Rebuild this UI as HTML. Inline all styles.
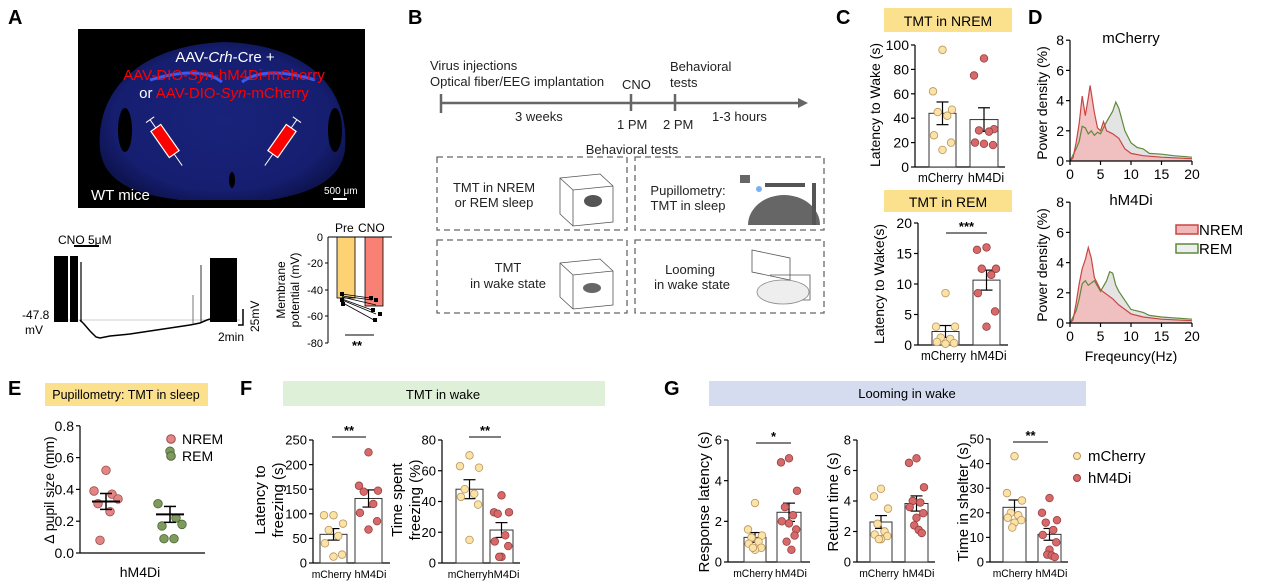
<!DOCTYPE html>
<html><head><meta charset="utf-8"><style>
html,body{margin:0;padding:0;background:#fff}
svg{display:block;font-family:"Liberation Sans",Arial,sans-serif}
</style></head><body>
<svg id="s" width="1269" height="584" viewBox="0 0 1269 584" xmlns="http://www.w3.org/2000/svg">
<defs>
<radialGradient id="bg" cx="50%" cy="50%" r="55%"><stop offset="0" stop-color="#18237a"/><stop offset="0.8" stop-color="#161e70"/><stop offset="1" stop-color="#0e1450"/></radialGradient>
</defs>
<g font-weight="bold" font-size="20" fill="#000">
<text x="8" y="24">A</text><text x="408" y="24">B</text><text x="836" y="24">C</text><text x="1028" y="24">D</text>
<text x="8" y="395">E</text><text x="240" y="395">F</text><text x="664" y="395">G</text>
</g>
<!-- Panel A brain -->
<rect x="78" y="29" width="287" height="179" fill="#000"/>
<path d="M100 150 C95 90 140 45 225 42 C310 45 350 90 345 150 C340 185 300 195 270 200 L180 200 C140 195 105 185 100 150Z" fill="url(#bg)"/>
<path d="M150 80 Q200 65 222 82 M242 82 Q265 65 315 80" stroke="#3a5af0" stroke-width="3" fill="none"/>
<ellipse cx="125" cy="130" rx="7" ry="22" fill="#000"/><ellipse cx="335" cy="130" rx="7" ry="22" fill="#000"/>
<ellipse cx="232" cy="180" rx="3" ry="8" fill="#000"/>
<g font-size="15" text-anchor="middle">
<text x="225" y="62" fill="#fff">AAV-<tspan font-style="italic">Crh</tspan>-Cre +</text>
<text x="224" y="80" fill="#f00">AAV-DIO-<tspan font-style="italic">Syn</tspan>-hM4Di-mCherry</text>
<text x="224" y="98" fill="#fff">or <tspan fill="#f00">AAV-DIO-<tspan font-style="italic">Syn</tspan>-mCherry</tspan></text>
</g>
<g transform="translate(165,141) rotate(-35)"><rect x="-6" y="-16" width="12" height="32" fill="#f00" stroke="#fff" stroke-width="1.2"/><line x1="0" y1="-16" x2="0" y2="-26" stroke="#fff"/><line x1="-5" y1="-26" x2="5" y2="-26" stroke="#fff"/><line x1="0" y1="16" x2="0" y2="30" stroke="#fff"/></g>
<g transform="translate(282,141) rotate(35)"><rect x="-6" y="-16" width="12" height="32" fill="#f00" stroke="#fff" stroke-width="1.2"/><line x1="0" y1="-16" x2="0" y2="-26" stroke="#fff"/><line x1="-5" y1="-26" x2="5" y2="-26" stroke="#fff"/><line x1="0" y1="16" x2="0" y2="30" stroke="#fff"/></g>
<text x="91" y="200" font-size="15" fill="#fff">WT  mice</text>
<text x="324" y="194" font-size="10" fill="#fff">500 μm</text>
<rect x="333" y="198" width="14" height="2" fill="#fff"/>
<!-- trace -->
<text x="58" y="244" font-size="12">CNO 5μM</text>
<rect x="74" y="245" width="25" height="2" fill="#000"/>
<line x1="54" y1="320" x2="240" y2="320" stroke="#bbb" stroke-width="0.8"/>
<g stroke="#000" stroke-width="1.2">
<rect x="54" y="256" width="14" height="66" fill="#000" stroke="none"/><rect x="70" y="256" width="8" height="66" fill="#000" stroke="none"/><line x1="81" y1="262" x2="81" y2="322"/>
<rect x="210" y="258" width="27" height="64" fill="#000" stroke="none"/>
</g>
<polyline points="80,320 84,324 90,331 96,337 100,338 110,336 130,334 150,331 170,328 190,325 200,323 207,320 210,319" fill="none" stroke="#000" stroke-width="1.5"/>
<line x1="193" y1="295" x2="193" y2="324" stroke="#777"/><line x1="201" y1="265" x2="201" y2="322" stroke="#333"/>
<text x="22" y="319" font-size="12">-47.8</text><text x="25" y="334" font-size="12">mV</text>
<polyline points="243,309 243,325 238,325" fill="none" stroke="#000" stroke-width="1.5"/>
<text x="218" y="341" font-size="12">2min</text>
<text transform="translate(259,332) rotate(-90)" font-size="12">25mV</text>
<!-- small bar -->
<g font-size="11">
<text x="335" y="232" font-size="12">Pre</text><text x="358" y="232" font-size="12">CNO</text>
<rect x="337" y="237" width="18" height="61" fill="#fcd274" stroke="#000" stroke-width="0.8"/>
<rect x="365" y="237" width="18" height="69" fill="#f88074" stroke="#000" stroke-width="0.8"/>
<line x1="328" y1="237" x2="328" y2="343" stroke="#000"/><line x1="328" y1="237" x2="392" y2="237" stroke="#000"/>
<g text-anchor="end"><text x="323" y="241">0</text><text x="323" y="267">-20</text><text x="323" y="294">-40</text><text x="323" y="320">-60</text><text x="323" y="347">-80</text></g>
<g stroke="#000"><line x1="325" y1="263" x2="328" y2="263"/><line x1="325" y1="290" x2="328" y2="290"/><line x1="325" y1="316" x2="328" y2="316"/><line x1="325" y1="343" x2="328" y2="343"/></g>
<g stroke="#000" stroke-width="0.8"><line x1="342" y1="294" x2="370" y2="298"/><line x1="342" y1="296" x2="372" y2="300"/><line x1="342" y1="299" x2="372" y2="310"/><line x1="342" y1="300" x2="376" y2="314"/><line x1="343" y1="303" x2="374" y2="320"/><line x1="342" y1="297" x2="376" y2="305"/></g>
<g fill="#000"><rect x="340" y="292" width="4" height="4"/><rect x="340" y="298" width="4" height="4"/><rect x="341" y="302" width="4" height="4"/><rect x="369" y="296" width="4" height="4"/><rect x="374" y="298" width="4" height="4"/><rect x="371" y="308" width="4" height="4"/><rect x="378" y="312" width="4" height="4"/><rect x="373" y="318" width="4" height="4"/></g>
<line x1="345" y1="335" x2="374" y2="335" stroke="#000"/><text x="352" y="350" font-weight="bold" font-size="13">**</text>
<text transform="translate(285,290) rotate(-90)" font-size="12" text-anchor="middle">Membrane</text>
<text transform="translate(299,290) rotate(-90)" font-size="12" text-anchor="middle">potential (mV)</text>
</g>
<!-- Panel B -->
<g font-size="13" fill="#222">
<text x="430" y="70">Virus injections</text><text x="430" y="86">Optical fiber/EEG implantation</text>
<text x="622" y="89">CNO</text><text x="670" y="71">Behavioral</text><text x="670" y="87">tests</text>
<text x="515" y="121">3 weeks</text><text x="617" y="129">1 PM</text><text x="663" y="129">2 PM</text><text x="712" y="121">1-3 hours</text>
<text x="632" y="154" text-anchor="middle">Behavioral tests</text>
</g>
<g stroke="#666" stroke-width="2.5"><line x1="441" y1="103" x2="800" y2="103"/><line x1="441" y1="94" x2="441" y2="113"/><line x1="631" y1="94" x2="631" y2="111"/><line x1="675" y1="94" x2="675" y2="111"/></g>
<polygon points="798,98 808,103 798,108" fill="#666"/>
<g fill="none" stroke="#666" stroke-width="1.3" stroke-dasharray="6,4">
<rect x="437" y="157" width="190" height="73"/><rect x="635" y="157" width="189" height="73"/>
<rect x="437" y="240" width="190" height="73"/><rect x="635" y="240" width="189" height="73"/>
</g>
<g font-size="13" fill="#222" text-anchor="middle">
<text x="494" y="192">TMT in NREM</text><text x="494" y="207">or REM sleep</text>
<text x="688" y="195">Pupillometry:</text><text x="688" y="210">TMT in sleep</text>
<text x="508" y="272">TMT</text><text x="508" y="288">in wake state</text>
<text x="690" y="274">Looming</text><text x="692" y="289">in wake state</text>
</g>
<g fill="none" stroke="#555" stroke-width="0.8">
<path d="M560 178 L600 174 L613 186 L613 222 L573 226 L560 214Z M560 178 L573 190 L613 186 M573 190 L573 226"/>
<path d="M560 263 L600 259 L613 271 L613 305 L573 309 L560 297Z M560 263 L573 275 L613 271 M573 275 L573 309"/>
<path d="M752 250 L790 258 L790 280 L752 272Z M770 275 L810 275 L810 300 L770 300"/>
</g>
<ellipse cx="593" cy="201" rx="9" ry="6" fill="#555"/><ellipse cx="592" cy="288" rx="9" ry="5" fill="#666"/>
<path d="M748 225 A36 30 0 0 1 820 225Z" fill="#666"/><rect x="765" y="183" width="40" height="4" fill="#555"/><rect x="812" y="183" width="4" height="42" fill="#555"/>
<rect x="740" y="175" width="10" height="8" fill="#666"/><circle cx="759" cy="189" r="3" fill="#7ab0f0"/>
<ellipse cx="783" cy="292" rx="26" ry="12" fill="#eee" stroke="#888" stroke-width="0.8"/>
<!-- headers -->
<rect x="884" y="8" width="128" height="24" fill="#fbe08d"/><text x="948" y="26" font-size="14" text-anchor="middle">TMT in NREM</text>
<rect x="884" y="190" width="128" height="22" fill="#fbe08d"/><text x="948" y="207" font-size="14" text-anchor="middle">TMT in REM</text>
<rect x="45" y="383" width="163" height="23" fill="#fbe08d"/><text x="126" y="399" font-size="12.5" text-anchor="middle">Pupillometry: TMT in sleep</text>
<rect x="283" y="381" width="322" height="25" fill="#dff0d8"/><text x="443" y="399" font-size="13" text-anchor="middle">TMT in wake</text>
<rect x="709" y="381" width="377" height="25" fill="#d6dcef"/><text x="907" y="398" font-size="13" text-anchor="middle">Looming in wake</text>
<g id="dyn"></g>
</svg>
<script>
var o='';
function T(x,y,s,a,fs,ex){o+='<text x="'+x+'" y="'+y+'" font-size="'+(fs||12)+'" text-anchor="'+(a||'start')+'" '+(ex||'')+'>'+s+'</text>';}
function L(x1,y1,x2,y2,w,c){o+='<line x1="'+x1+'" y1="'+y1+'" x2="'+x2+'" y2="'+y2+'" stroke="'+(c||'#000')+'" stroke-width="'+(w||1)+'"/>';}
var MC=['#fbe3a6','#b89460'],HM=['#d8696a','#944040'];
function chart(c){
 var sc=(c.y0-c.yt)/c.max, fs=c.fs||12, lf=c.lf||11;
 L(c.ax,c.yt,c.ax,c.y0,1.2);L(c.ax,c.y0,c.xr,c.y0,1.2);
 c.ticks.forEach(function(t){var y=c.y0-t*sc;L(c.ax-4,y,c.ax,y,1.2);T(c.ax-6,y+fs*0.36,t,'end',fs);});
 c.bars.forEach(function(b,bi){
  var n=b.vals.length,m=b.vals.reduce(function(a,v){return a+v},0)/n;
  var sd=Math.sqrt(b.vals.reduce(function(a,v){return a+(v-m)*(v-m)},0)/(n-1))/Math.sqrt(n);
  var yt=c.y0-m*sc,cx=(b.x1+b.x2)/2;
  o+='<rect x="'+b.x1+'" y="'+yt+'" width="'+(b.x2-b.x1)+'" height="'+(c.y0-yt)+'" fill="#fff" stroke="#333" stroke-width="1"/>';
  L(cx,yt-sd*sc,cx,yt+sd*sc,1.2);L(cx-6,yt-sd*sc,cx+6,yt-sd*sc,1.2);L(cx-6,yt+sd*sc,cx+6,yt+sd*sc,1.2);
  var w=(b.x2-b.x1)/2-4;
  b.vals.forEach(function(v,i){var dx=[0,-w,w,-w*0.5,w*0.5,-w*0.9,w*0.9,0,-w*0.3,w*0.3,w*0.7][i%11];
   o+='<circle cx="'+(cx+dx)+'" cy="'+(c.y0-v*sc)+'" r="3.8" fill="'+b.col[0]+'" stroke="'+b.col[1]+'" stroke-width="0.8"/>';});
  if(b.lab){var tl=bi==0?lf*3.6:lf*2.9;T(cx+(bi==0?-2:2),c.y0+15,b.lab,'middle',lf,'textLength="'+tl+'" lengthAdjust="spacingAndGlyphs"');}
 });
 if(c.sig){L(c.sig[0],c.sig[2],c.sig[1],c.sig[2],1);T((c.sig[0]+c.sig[1])/2,c.sig[2]-2,c.sig[3],'middle',13,'font-weight="bold"');}
 if(c.yl){c.yl.forEach(function(l){T(0,0,l[2],'middle',l[3]||14,'transform="translate('+l[0]+','+l[1]+') rotate(-90)"');});}
}
chart({ax:915,y0:167,yt:45,max:100,ticks:[0,20,40,60,80,100],xr:1005,fs:14,lf:12.5,
 bars:[{x1:929,x2:956,vals:[96,62,47,45,42,26,20,14],col:MC,lab:'mCherry'},{x1:970,x2:998,vals:[89,75,31,30,29,20,18,19],col:HM,lab:'hM4Di'}],
 yl:[[880,105,'Latency to Wake (s)',14]]});
chart({ax:918,y0:345,yt:223,max:20,ticks:[0,5,10,15,20],xr:1008,fs:14,lf:12.5,
 bars:[{x1:932,x2:959,vals:[8.5,3,3,1.2,1,0.5,0.3,0.2],col:MC,lab:'mCherry'},{x1:973,x2:1000,vals:[16,15.6,12.5,12.5,11.5,8.5,5.5,3],col:HM,lab:'hM4Di'}],
 sig:[946,987,233,'***'],yl:[[884,284,'Latency to Wake(s)',14]]});
// E
(function(){var ax=80,y0=553,sc=159;L(ax,426,ax,y0,1.2);L(ax,y0,205,y0,1.2);
 [0,0.2,0.4,0.6,0.8].forEach(function(t){var y=y0-t*sc;L(ax-4,y,ax,y,1.2);T(ax-6,y+5,t.toFixed(1),'end',14);});
 function grp(cx,vals,col){var m=vals.reduce(function(a,v){return a+v},0)/vals.length;
  var off=[0,-12,6,12,-8,4,-6];vals.forEach(function(v,i){o+='<circle cx="'+(cx+off[i])+'" cy="'+(y0-v*sc)+'" r="4.3" fill="'+col[0]+'" stroke="'+col[1]+'" stroke-width="0.8"/>';});
  L(cx-14,y0-m*sc,cx+14,y0-m*sc,2);L(cx,y0-(m+0.05)*sc,cx,y0-(m-0.05)*sc,1.5);L(cx-6,y0-(m+0.05)*sc,cx+6,y0-(m+0.05)*sc,1.5);L(cx-6,y0-(m-0.05)*sc,cx+6,y0-(m-0.05)*sc,1.5);}
 grp(106,[0.52,0.39,0.37,0.34,0.31,0.26,0.08],['#e48585','#9a4a4a']);
 grp(170,[0.64,0.31,0.22,0.18,0.17,0.09,0.09],['#7f9a5f','#4d6636']);
 T(140,577,'hM4Di','middle',14);T(0,0,'Δ pupil size (mm)','middle',14,'transform="translate(54,490) rotate(-90)"');
 o+='<circle cx="171" cy="439" r="4.3" fill="#e48585" stroke="#9a4a4a"/><circle cx="171" cy="456" r="4.3" fill="#7f9a5f" stroke="#4d6636"/>';
 T(182,444,'NREM','start',14);T(182,461,'REM','start',14);})();
chart({ax:313,y0:563,yt:440,max:250,ticks:[0,50,100,150,200,250],xr:390,fs:13,
 bars:[{x1:320,x2:347,vals:[97,97,80,67,55,40,17,13],col:MC,lab:'mCherry'},{x1:355,x2:382,vals:[225,157,147,145,120,102,85,68],col:HM,lab:'hM4Di'}],
 sig:[332,366,437,'**'],yl:[[265,500,'Latency to',15],[283,500,'freezing (s)',15]]});
chart({ax:442,y0:563,yt:440,max:80,ticks:[0,20,40,60,80],xr:520,fs:13,
 bars:[{x1:456,x2:483,vals:[70,63,62,48,45,43,38,15],col:MC,lab:'mCherry'},{x1:490,x2:513,vals:[44,33,33,32,18,14,11,4,4],col:HM,lab:'hM4Di'}],
 sig:[469,501,437,'**'],yl:[[402,500,'Time spent',15],[420,500,'freezing (%)',15]]});
chart({ax:728,y0:562,yt:440,max:6,ticks:[0,2,4,6],xr:810,fs:13,
 bars:[{x1:744,x2:766,vals:[2.9,1.6,1.3,1.2,1.0,0.9,0.7,0.6,0.7],col:MC,lab:'mCherry'},{x1:777,x2:801,vals:[5.1,4.9,3.5,2.7,2.3,2.0,1.6,1.9,1.0,0.6,1.3],col:HM,lab:'hM4Di'}],
 sig:[756,791,443,'*'],yl:[[709,502,'Response latency (s)',15]]});
chart({ax:857,y0:562,yt:440,max:8,ticks:[0,2,4,6,8],xr:935,fs:13,
 bars:[{x1:870,x2:892,vals:[4.8,4.3,3.5,2.5,2.0,1.8,1.7,1.5,1.5],col:MC,lab:'mCherry'},{x1:905,x2:928,vals:[6.8,6.5,4.9,4.0,3.9,3.6,3.2,2.9,2.4,2.1,1.9],col:HM,lab:'hM4Di'}],
 yl:[[838,502,'Return time (s)',15]]});
chart({ax:990,y0:562,yt:439,max:50,ticks:[0,10,20,30,40,50],xr:1068,fs:13,
 bars:[{x1:1003,x2:1026,vals:[43,28,25,20,19,18,17,16,14],col:MC,lab:'mCherry'},{x1:1038,x2:1061,vals:[26,20,17,16,13,11,8,5,3,2.6,2],col:HM,lab:'hM4Di'}],
 sig:[1013,1048,442,'**'],yl:[[968,502,'Time in shelter (s)',15]]});
o+='<circle cx="1077" cy="456" r="3.5" fill="#fbe3a6" stroke="#b89460"/><circle cx="1077" cy="478" r="3.5" fill="#d8696a" stroke="#944040"/>';
T(1088,461,'mCherry','start',15);T(1088,483,'hM4Di','start',15);
function spec(y0,nrem,rem,title){var ax=1070,sx=6.1,sy=15.1;
 function path(d){var s='';d.forEach(function(p,i){s+=(i?'L':'M')+(ax+p[0]*sx).toFixed(1)+' '+(y0-p[1]*sy).toFixed(1);});return s;}
 o+='<path d="'+path(rem)+'L'+(ax+20*sx)+' '+y0+'L'+ax+' '+y0+'Z" fill="#ddd" opacity="0.8"/>';
 o+='<path d="'+path(nrem)+'L'+(ax+20*sx)+' '+y0+'L'+ax+' '+y0+'Z" fill="#f2b8b8" opacity="0.85"/>';
 o+='<path d="'+path(rem)+'" fill="none" stroke="#5e8a3a" stroke-width="1.2"/>';
 o+='<path d="'+path(nrem)+'" fill="none" stroke="#c84545" stroke-width="1.2"/>';
 L(ax,y0-8*sy,ax,y0,1.2);L(ax,y0,ax+20*sx,y0,1.2);
 [0,2,4,6,8].forEach(function(t){var y=y0-t*sy;L(ax-4,y,ax,y,1.2);T(ax-6,y+5,t,'end',14);});
 [0,5,10,15,20].forEach(function(t){var x=ax+t*sx;L(x,y0,x,y0+4,1.2);T(x,y0+18,t,'middle',14);});
 T(1131,y0-118,title,'middle',15);
 T(0,0,'Power density (%)','middle',14,'transform="translate(1047,'+(y0-58)+') rotate(-90)"');}
spec(161,[[0,0],[0.5,0.2],[1,1.2],[1.5,2.5],[2,4.3],[2.5,3],[3,4.2],[3.3,5],[4,3.2],[4.5,2.2],[5,2],[5.5,2.6],[6,2],[7,1.8],[8,1.5],[9,0.8],[10,0.5],[12,0.35],[15,0.25],[20,0.15]],
 [[0,0],[1,0.8],[1.5,1.3],[2,2.3],[2.5,2.2],[3,1.8],[3.5,2],[4,1.7],[4.5,1.9],[5,1.8],[6,2.6],[7,3.3],[7.5,3.9],[8,3.5],[9,2],[10,1.2],[11,0.9],[12,0.8],[13,0.5],[15,0.45],[17,0.35],[20,0.25]],'mCherry');
spec(323,[[0,0],[0.5,0.2],[1,1.3],[1.5,2.6],[2,3.6],[2.5,4.2],[3,5],[3.5,4.3],[4,3],[5,2.2],[6,1.9],[7,1.6],[8,1.2],[9,0.9],[10,0.6],[12,0.4],[15,0.25],[20,0.15]],
 [[0,0],[1,0.8],[1.5,1.6],[2,2.6],[2.5,2.8],[3,2.5],[4,2.8],[5,2.1],[6,2.8],[6.5,3.4],[7,3.3],[7.5,2.5],[8,2.1],[9,1.5],[10,0.9],[11,0.8],[12,0.7],[13,0.5],[15,0.4],[20,0.25]],'hM4Di');
T(1131,361,'Freqeuncy(Hz)','middle',14);
o+='<rect x="1176" y="225" width="22" height="9" fill="#f2b8b8" stroke="#c84545" stroke-width="1.5"/><rect x="1176" y="244" width="22" height="9" fill="#eee" stroke="#5e8a3a" stroke-width="1.5"/>';
T(1199,235,'NREM','start',15);T(1199,254,'REM','start',15);
document.getElementById('dyn').innerHTML=o;
</script>
</body></html>
